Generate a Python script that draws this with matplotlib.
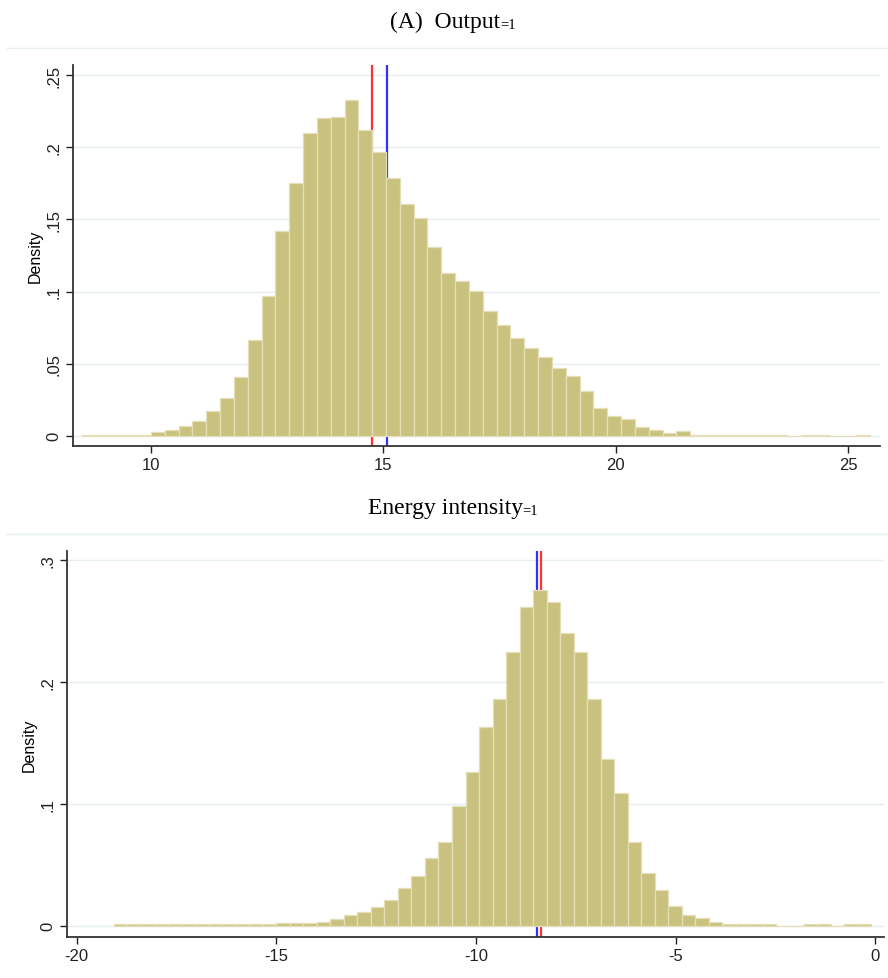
import numpy as np
import matplotlib.pyplot as plt
from matplotlib.lines import Line2D

#______________________________ DATOS ______________________________
# panel superior: Output=1
out_inicio = 8.516      # borde izquierdo del primer bin
out_ancho = 0.2975      # ancho de bin
out_dens = [0.0007, 0.0007, 0.0007, 0.0007, 0.0007, 0.0023, 0.004, 0.0065, 0.0104, 0.0169,
            0.0259, 0.0404, 0.0663, 0.097, 0.142, 0.175, 0.210, 0.220, 0.221, 0.233,
            0.212, 0.197, 0.179, 0.161, 0.151, 0.131, 0.1125, 0.107, 0.1005, 0.0867,
            0.0767, 0.0675, 0.061, 0.0545, 0.047, 0.0416, 0.0307, 0.0194, 0.0139, 0.0113,
            0.0058, 0.0039, 0.0021, 0.003, 0.0007, 0.0007, 0.0007, 0.0007, 0.0007, 0.0007,
            0.0007, 0.0, 0.0007, 0.0007, 0.0, 0.0, 0.0007]
out_rojo = 14.754
out_azul = 15.083
out_xticks = [10, 15, 20, 25]
out_yticks = [0, 0.05, 0.1, 0.15, 0.2, 0.25]
out_ylabels = ['0', '.05', '.1', '.15', '.2', '.25']

# panel inferior: Energy intensity=1
ene_inicio = -19.066
ene_ancho = 0.3386
ene_dens = [0.001, 0.001, 0.001, 0.001, 0.001, 0.001, 0.001, 0.001, 0.001, 0.001,
            0.001, 0.001, 0.002, 0.002, 0.002, 0.0033, 0.0055, 0.009, 0.011, 0.0156,
            0.0213, 0.031, 0.041, 0.0555, 0.0689, 0.0984, 0.126, 0.1626, 0.1858, 0.2246,
            0.261, 0.2754, 0.2656, 0.240, 0.2246, 0.1858, 0.137, 0.1085, 0.0683, 0.0432,
            0.0292, 0.0164, 0.0087, 0.0066, 0.0033, 0.0014, 0.0014, 0.0014, 0.0014, 0.0,
            0.0, 0.0014, 0.0014, 0.0, 0.0014, 0.0014]
ene_rojo = -8.38
ene_azul = -8.48
ene_xticks = [-20, -15, -10, -5, 0]
ene_yticks = [0, 0.1, 0.2, 0.3]
ene_ylabels = ['0', '.1', '.2', '.3']

#______________________________ ESTILO ______________________________
plt.rcParams['font.family'] = ['Liberation Sans', 'DejaVu Sans']
serif = ['Liberation Serif', 'DejaVu Serif']

c_barra = '#c9c27e'
c_borde = '#e4dfb8'
c_grid = '#e6eef1'
c_eje = '#333333'


def panel(ax, inicio, ancho, dens, rojo, azul, xticks, yticks, ylabels, xlim, ylim):
    izq = inicio + ancho * np.arange(len(dens))
    ax.bar(izq, dens, width=ancho, align='edge', color=c_barra,
           edgecolor=c_borde, linewidth=0.9, zorder=3)
    ax.axvline(rojo, color='#ff3030', lw=1.6, zorder=2)
    ax.axvline(azul, color='#3030ff', lw=1.6, zorder=2)

    ax.set_xlim(xlim)
    ax.set_ylim(ylim)
    ax.set_xticks(xticks)
    ax.set_xticklabels([str(t) for t in xticks])
    ax.set_yticks(yticks)
    ax.set_yticklabels(ylabels, rotation=90, va='center')
    ax.yaxis.grid(True, color=c_grid, lw=1.0, zorder=0)
    ax.set_axisbelow(True)
    ax.set_ylabel('Density', fontsize=11.5, labelpad=3)

    for s in ['top', 'right']:
        ax.spines[s].set_visible(False)
    for s in ['left', 'bottom']:
        ax.spines[s].set_color(c_eje)
        ax.spines[s].set_linewidth(1.3)
    ax.tick_params(axis='both', labelsize=12, colors='#222222', length=5, width=1.0, pad=3)


fig = plt.figure(figsize=(8.88, 9.79), dpi=100)
H = 979.0
W = 888.0

# ejes superiores (coordenadas en pixeles medidas)
ax1 = fig.add_axes([72.7 / W, 1 - 447 / H, (880 - 72.7) / W, (447 - 66) / H])
panel(ax1, out_inicio, out_ancho, out_dens, out_rojo, out_azul,
      out_xticks, out_yticks, out_ylabels, (8.322, 25.687), (-0.00714, 0.2571))

ax2 = fig.add_axes([66.7 / W, 1 - 938.3 / H, (884 - 66.7) / W, (938.3 - 551.7) / H])
panel(ax2, ene_inicio, ene_ancho, ene_dens, ene_rojo, ene_azul,
      ene_xticks, ene_yticks, ene_ylabels, (-20.25, 0.218), (-0.0095, 0.3075))


def titulo(base_px, texto, sub, centro_px=453):
    # texto principal + subindice pegado, centrado en conjunto
    t1 = fig.text(0, 1 - base_px / H, texto, fontsize=17, family=serif, va='baseline')
    t2 = fig.text(0, 1 - (base_px + 1) / H, sub, fontsize=10.5, family=serif, va='baseline')
    r = fig.canvas.get_renderer()
    w1 = t1.get_window_extent(r).width
    w2 = t2.get_window_extent(r).width
    x0 = centro_px - (w1 + w2) / 2
    t1.set_x(x0 / W)
    t2.set_x((x0 + w1) / W)


titulo(28, '(A)  Output', '=1')
titulo(514, 'Energy intensity', '=1')

# lineas separadoras
fig.add_artist(Line2D([7 / W, 1.0], [1 - 49 / H, 1 - 49 / H], color=c_grid, lw=1.0))
fig.add_artist(Line2D([6 / W, 1.0], [1 - 535 / H, 1 - 535 / H], color=c_grid, lw=1.0))

plt.savefig('out.png', dpi=100)
